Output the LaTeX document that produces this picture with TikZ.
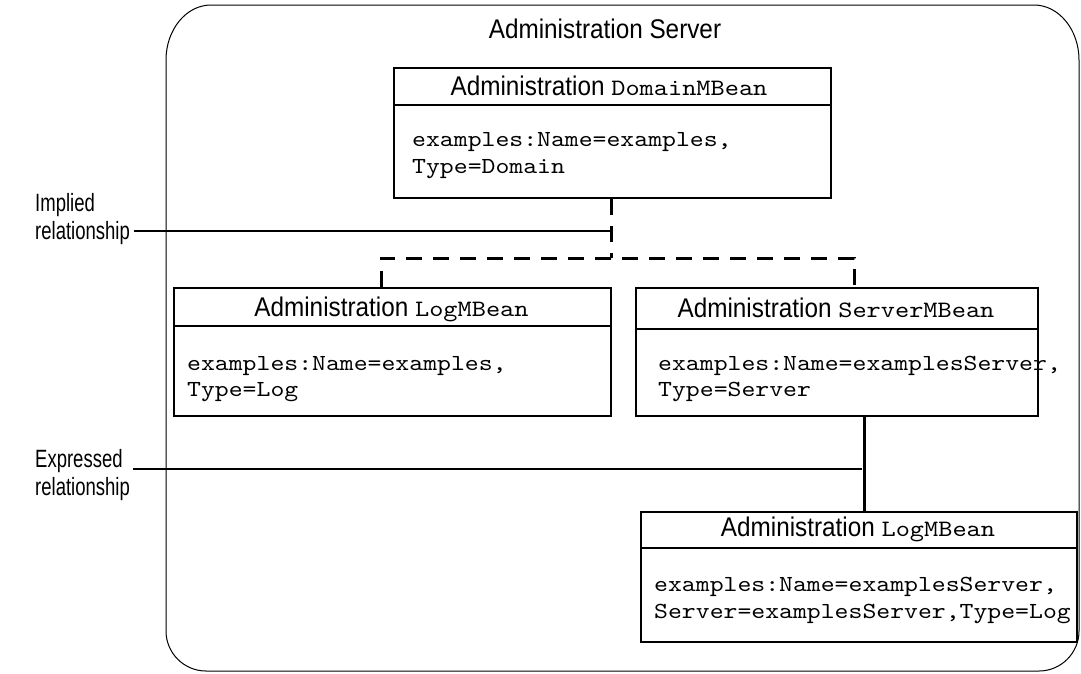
\documentclass[tikz,border=0pt]{standalone}
\usepackage{fontspec}
\setmainfont{Liberation Sans}[FakeStretch=0.9]
\setmonofont{lmmono10-regular}[Extension=.otf,FakeStretch=1.15]
\newfontfamily\lblfont{Liberation Sans}[FakeStretch=0.74]
\newcommand\beanname[1]{{\fontsize{23.5}{26}\ttfamily #1}}
\begin{document}
\begin{tikzpicture}[x=1pt,y=-1pt,
  mbox/.style={draw,line width=2.4pt,rectangle,inner sep=0pt,anchor=north west},
  divider/.style={line width=2.4pt},
  head/.style={anchor=base,font=\fontsize{27}{30}\selectfont,inner sep=0pt},
  body/.style={anchor=base west,font=\fontsize{23}{26}\ttfamily,inner sep=0pt},
  lbl/.style={anchor=base west,font=\fontsize{25}{28}\lblfont,inner sep=0pt},
  implied/.style={line width=3pt,dash pattern=on 16pt off 11pt},
  expressed/.style={line width=3pt},
  leader/.style={line width=1.6pt}]
\useasboundingbox (0,0) rectangle (1081,673);

% server container with soft, slightly oval corners
\draw[line width=1pt]
  (211,5) -- (1034,5)
  .. controls (1058.8,5) and (1079,29.6) .. (1079,60)
  -- (1079,631)
  .. controls (1079,653) and (1061,671) .. (1039,671)
  -- (206,671)
  .. controls (184,671) and (166,653) .. (166,631)
  -- (166,60)
  .. controls (166,29.6) and (186.2,5) .. (211,5) -- cycle;
\node[head] (title) at (605,38) {Administration Server};

% MBean boxes
\node[mbox,minimum width=437pt,minimum height=130pt] (dom) at (393,67) {};
\node[mbox,minimum width=437pt,minimum height=128pt] (log1) at (173,287) {};
\node[mbox,minimum width=402pt,minimum height=128pt] (srv) at (635,287) {};
\node[mbox,minimum width=436pt,minimum height=130pt] (log2) at (640,511) {};

\draw[divider] (dom.west |- 0,105) -- (dom.east |- 0,105);
\draw[divider] (log1.west |- 0,326) -- (log1.east |- 0,326);
\draw[divider] (srv.west |- 0,329) -- (srv.east |- 0,329);
\draw[divider] (log2.west |- 0,548) -- (log2.east |- 0,548);

\node[head] (domh) at (609,95.5) {Administration \beanname{DomainMBean}};
\node[body] (domb1) at (412,146) {examples:Name=examples,};
\node[body] (domb2) at (412,173) {Type=Domain};

\node[head] (log1h) at (391.5,316) {Administration \beanname{LogMBean}};
\node[body] (log1b1) at (187,370) {examples:Name=examples,};
\node[body] (log1b2) at (187,396) {Type=Log};

\node[head] (srvh) at (836,317) {Administration \beanname{ServerMBean}};
\node[body] (srvb1) at (658,370) {examples:Name=examplesServer,};
\node[body] (srvb2) at (658,396) {Type=Server};

\node[head] (log2h) at (858,536) {Administration \beanname{LogMBean}};
\node[body] (log2b1) at (654,591) {examples:Name=examplesServer,};
\node[body] (log2b2) at (654,618) {Server=examplesServer,Type=Log};

% implied (dashed) relationships
\coordinate (jn) at (611,258);
\draw[implied] (dom.south -| jn) -- (jn);
\draw[implied] (log1.north -| 381,0) |- (jn) -| (srv.north -| 854,0);

% expressed (solid) relationship
\draw[expressed] (srv.south -| 864,0) -- (log2.north -| 864,0);

% legend
\node[lbl] (impl1) at (35,211) {Implied};
\node[lbl] (impl2) at (35,239) {relationship};
\node[lbl] (expr1) at (35,467) {Expressed};
\node[lbl] (expr2) at (35,495) {relationship};
\coordinate (implend) at (611,231);
\coordinate (exprend) at (862,469);
\draw[leader] (impl2.east |- implend) ++(4,0) -- (implend);
\draw[leader] (133,469) -- (exprend);
\end{tikzpicture}
\end{document}
